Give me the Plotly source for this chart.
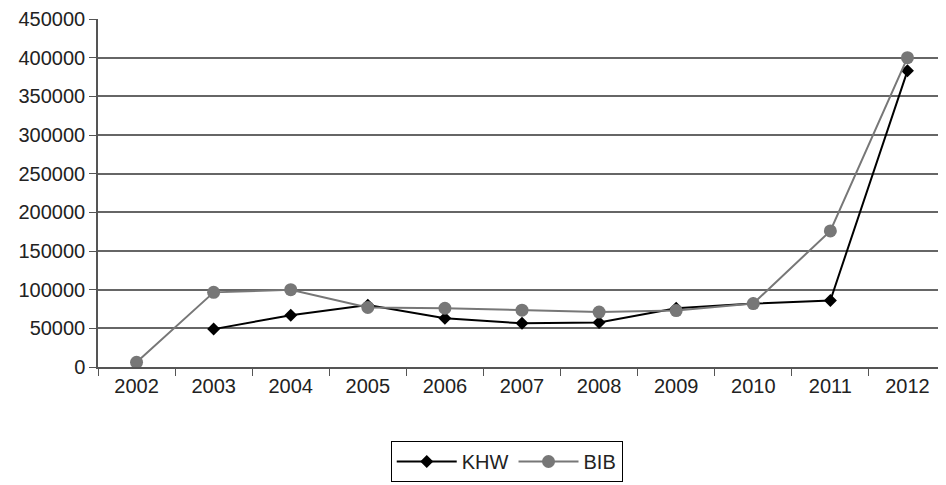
import plotly.graph_objects as go

years = ["2002", "2003", "2004", "2005", "2006", "2007", "2008", "2009", "2010", "2011", "2012"]
khw = [None, 49000, 67000, 80000, 63000, 56500, 57500, 76000, 82000, 86000, 383000]
bib = [6000, 96500, 100000, 77000, 76000, 73500, 71000, 73000, 82000, 176000, 400000]
y_ticks = [0, 50000, 100000, 150000, 200000, 250000, 300000, 350000, 400000, 450000]

fig = go.Figure()
fig.add_trace(go.Scatter(
    x=years, y=khw, name="KHW", mode="lines+markers",
    line=dict(color="#000000", width=2),
    marker=dict(symbol="diamond", size=10, color="#000000"),
))
fig.add_trace(go.Scatter(
    x=years, y=bib, name="BIB", mode="lines+markers",
    line=dict(color="#777777", width=2),
    marker=dict(symbol="circle", size=13, color="#777777"),
))

fig.update_layout(
    width=938, height=477,
    margin=dict(l=90, r=0, t=11, b=118, autoexpand=False),
    paper_bgcolor="white", plot_bgcolor="white",
    font=dict(family="Liberation Sans, Arial, sans-serif", size=20, color="#222222"),
    showlegend=True,
    legend=dict(
        orientation="h", x=0.482, xanchor="center", y=-0.2126, yanchor="top",
        bordercolor="#000000", borderwidth=1, bgcolor="white",
        font=dict(size=20), itemwidth=60,
    ),
    xaxis=dict(
        type="category", tickson="boundaries", ticks="outside", ticklen=7,
        tickcolor="#555555", showline=True, linecolor="#555555", linewidth=1.5,
        showgrid=False, range=[-0.5, 10.5], zeroline=False, automargin=False,
    ),
    yaxis=dict(
        range=[0, 450000], tickvals=y_ticks, ticktext=[str(v) for v in y_ticks],
        ticks="outside", ticklen=7, tickcolor="#555555",
        showline=True, linecolor="#555555", linewidth=1.5, automargin=False,
        showgrid=True, gridcolor="#666666", gridwidth=1.5, zeroline=False,
    ),
)

fig.write_html("out.html")
